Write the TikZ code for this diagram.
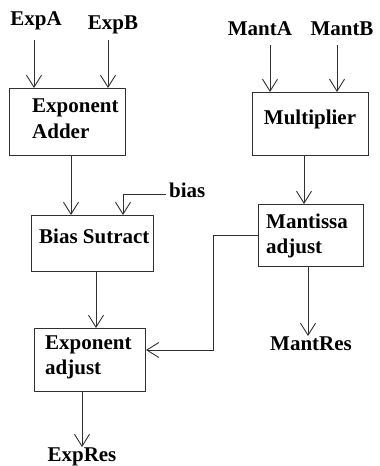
\documentclass[tikz,border=0pt]{standalone}
\usepackage{fontspec}
\setmainfont{Liberation Serif}
\usetikzlibrary{arrows.meta}
\definecolor{ln}{HTML}{303030}
\tikzset{
  box/.style={draw=ln, line width=1pt, inner sep=0pt, anchor=north west},
  txt/.style={font=\fontsize{21}{24}\selectfont\bfseries, inner sep=0pt, text=black, anchor=base west},
  lbl/.style={font=\fontsize{21}{24}\selectfont\bfseries, inner sep=0pt, text=black, anchor=base},
  arr/.style={draw=ln, line width=1pt, -{Straight Barb[length=12pt,width=15pt,line width=0.9pt]}},
  wire/.style={draw=ln, line width=1pt},
}
\begin{document}
\begin{tikzpicture}[x=1pt,y=-1pt]
\useasboundingbox (0,0) rectangle (380,466);
% boxes
\node[box, minimum width=116pt, minimum height=67pt] (ea) at (9,88) {};
\node[box, minimum width=122pt, minimum height=56pt] (bs) at (31,215) {};
\node[box, minimum width=111pt, minimum height=63pt] (xa) at (34,328) {};
\node[box, minimum width=116pt, minimum height=63pt] (mu) at (252,92) {};
\node[box, minimum width=105pt, minimum height=62pt] (ma) at (258,204) {};
% box texts
\node[txt] (ea1) at (32,112) {Exponent};
\node[txt] (ea2) at (32,138) {Adder};
\node[txt] (bs1) at (39,243) {Bias Sutract};
\node[txt] (xa1) at (45,349) {Exponent};
\node[txt] (xa2) at (45,374) {adjust};
\node[lbl] (mu1) at (310,124) {Multiplier};
\node[txt] (ma1) at (266,228) {Mantissa};
\node[txt] (ma2) at (266,253) {adjust};
% free labels
\node[lbl] (expa) at (36,25) {ExpA};
\node[lbl] (expb) at (113,29) {ExpB};
\node[lbl] (manta) at (260,35) {MantA};
\node[lbl] (mantb) at (342,35) {MantB};
\node[txt] (bias) at (169,197) {bias};
\node[lbl] (mantres) at (311,350) {MantRes};
\node[lbl] (expres) at (82,461) {ExpRes};
% arrow start points
\coordinate (pa) at (34,40);
\coordinate (pb) at (108,40);
\coordinate (pma) at (270,45);
\coordinate (pmb) at (337,45);
\coordinate (c1) at (71,155);
\coordinate (c2) at (96,271);
\coordinate (c3) at (304,155);
\coordinate (c4) at (308,266);
\coordinate (c5) at (82,391);
\coordinate (bc) at (123,194);
\coordinate (k1) at (213,235);
\coordinate (k2) at (213,350);
% connectors
\draw[arr] (pa) -- (pa |- ea.north);
\draw[arr] (pb) -- (pb |- ea.north);
\draw[arr] (pma) -- (pma |- mu.north);
\draw[arr] (pmb) -- (pmb |- mu.north);
\draw[arr] (c1) -- (c1 |- bs.north);
\draw[arr] (c2) -- (c2 |- xa.north);
\draw[arr] (c3) -- (c3 |- ma.north);
\draw[arr] (c4) -- (c4 |- mantres.north);
\draw[arr] (c5) -- (c5 |- expres.north);
\draw[arr] ([xshift=-3pt]bias.west |- bc) -- (bc) -- (bc |- bs.north);
\draw[arr] (k1 -| ma.west) -- (k1) -- (k2) -- (k2 -| xa.east);
\end{tikzpicture}
\end{document}
